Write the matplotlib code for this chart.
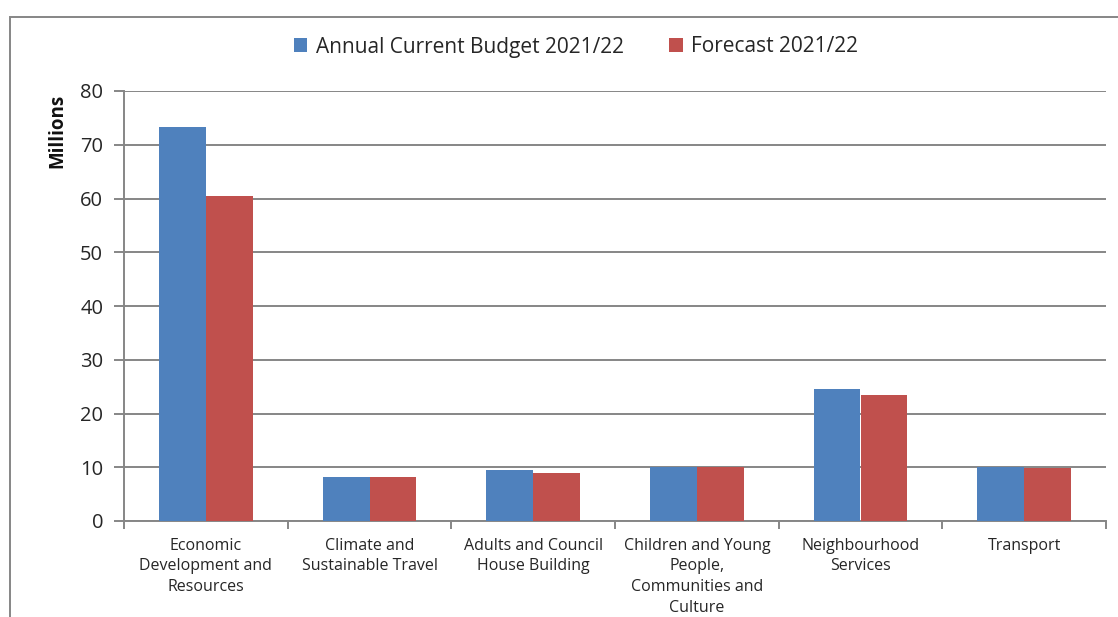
import matplotlib
matplotlib.use("Agg")
import matplotlib.pyplot as plt
import matplotlib.patches as mpatches
import numpy as np

categories = ["Economic\nDevelopment and\nResources",
              "Climate and\nSustainable Travel",
              "Adults and Council\nHouse Building",
              "Children and Young\nPeople,\nCommunities and\nCulture",
              "Neighbourhood\nServices",
              "Transport"]
budget = [73.3, 8.2, 9.5, 10.0, 24.6, 10.0]
forecast = [60.5, 8.2, 8.9, 10.0, 23.4, 9.8]
series_names = ["Annual Current Budget 2021/22", "Forecast 2021/22"]
yticks = [0, 10, 20, 30, 40, 50, 60, 70, 80]

plt.rcParams['font.family'] = ['Open Sans', 'DejaVu Sans']
W, H = 1118, 617
fig = plt.figure(figsize=(W/100, H/100), dpi=100)
ax = fig.add_axes([124/W, 1-521/H, (1106-124)/W, (521-91)/H])

grey = "#868686"
blue = "#4F81BD"
red = "#C0504D"
txt = "#262626"

x = np.arange(len(categories))
bw = 1/3.5
ax.bar(x - bw/2, budget, bw, color=blue, label=series_names[0], zorder=3)
ax.bar(x + bw/2, forecast, bw, color=red, label=series_names[1], zorder=3)

ax.set_xlim(-0.5, len(categories)-0.5)
ax.set_ylim(0, 80)
ax.set_yticks(yticks)
ax.set_yticklabels([str(v) for v in yticks], fontsize=14.5, color=txt)
ax.yaxis.grid(True, color=grey, linewidth=1.4, zorder=0)
ax.set_axisbelow(True)
for s in ["top", "right"]:
    ax.spines[s].set_visible(False)
ax.spines["left"].set_color(grey)
ax.spines["left"].set_linewidth(1.4)
ax.spines["bottom"].set_color(grey)
ax.spines["bottom"].set_linewidth(1.4)
ax.tick_params(axis="y", length=7, width=1.4, color=grey, pad=8)

ax.set_xticks(x)
ax.set_xticklabels(categories, fontsize=11.5, color=txt, linespacing=1.4, va="top")
ax.tick_params(axis="x", length=0, pad=12)
ax.set_xticks(np.arange(-0.5, len(categories)), minor=True)
ax.tick_params(axis="x", which="minor", length=6, width=1.4, color=grey)

fig.text(57/W, 1-131/H, "Millions", rotation=90, fontsize=13.5, fontweight="bold",
         ha="center", va="center", color="#111111")

leg = fig.legend(loc="center", bbox_to_anchor=(576/W, 1-47/H), ncol=2, frameon=False,
                 fontsize=15, handlelength=0.65, handleheight=0.65, handletextpad=0.4,
                 columnspacing=2.2)
for t in leg.get_texts():
    t.set_color(txt)

frame = mpatches.Rectangle((10/W, -0.05), 1.05, (1-17/H)+0.05, transform=fig.transFigure,
                           fill=False, edgecolor=grey, linewidth=1.4, clip_on=False)
fig.patches.append(frame)

fig.savefig("out.png", dpi=100, facecolor="white")
